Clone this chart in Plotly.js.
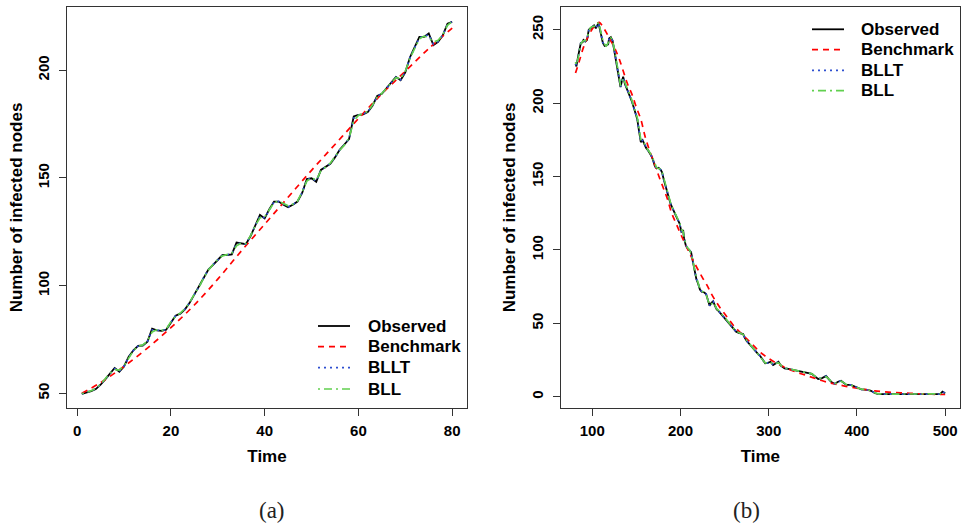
<!DOCTYPE html>
<html>
<head>
<meta charset="utf-8">
<script src="https://cdn.plot.ly/plotly-3.0.1.min.js"></script>
<style>html,body{margin:0;padding:0;background:#fff;}#chart{width:962px;height:528px;}</style>
</head>
<body>
<div id="chart"></div>
<script>
// ---------- Panel (a) ----------
const aTime = Array.from({length: 80}, (_, i) => i + 1);
const aObserved = [49.7,50.3,51,52,54,56.5,59,61.8,60,62.5,
  67,70,72,72.2,74,80,79.2,79,79.5,83,
  86,87,89,92,96,99.5,104,107.5,109.6,112,
  114.2,114.2,114.5,120,119.5,119.2,123,128,132.8,131.2,
  135.5,139,139,137.5,136.4,137.5,139,143,149.5,149.8,
  148.2,153.7,155,156.5,159.5,163,165.5,168,178.5,179.2,
  179.5,180.6,183.5,188,189,191.5,194.5,196.8,195.3,199,
  206,210.8,215.4,215.4,217,211.6,213.1,216.2,221.6,222.4];
const aBLLT = [49.7,50.4,51.1,52.1,54.1,56.6,59.1,61.5,60.3,62.6,
  66.8,69.9,71.9,72.3,74.1,79.5,79.3,79.1,79.6,83.1,
  85.9,87.1,89.1,92.1,95.9,99.4,103.8,107.4,109.7,112.1,
  114,114.3,114.7,119.5,119.6,119.3,123.1,127.9,132.3,131.4,
  135.4,138.8,139.1,137.7,136.6,137.6,139.1,143.2,149.2,149.9,
  148.5,153.5,155.1,156.6,159.6,162.9,165.4,168.2,177.8,179.1,
  179.6,180.7,183.6,187.8,189.1,191.6,194.4,196.7,195.5,199.2,
  205.8,210.6,215.1,215.5,216.5,212,213.3,216.3,221.3,222.5];
const aBLL = [49.8,50.5,51.2,52.3,54.2,56.8,59.3,61,60.8,62.8,
  66.5,69.8,71.8,72.5,74.2,78.5,79.5,79.2,79.8,83.2,
  85.8,87.2,89.3,92.2,96,99.3,103.6,107.2,109.8,112.2,
  113.8,114.5,115,118.5,119.8,119.5,123.2,127.8,131.5,131.8,
  135.2,138.5,139.2,138,137,137.8,139.2,143.5,148.5,150,
  149,153.2,155.2,156.8,159.8,162.8,165.2,168.5,176.5,179,
  179.8,180.8,183.8,187.5,189.2,191.8,194.2,196.5,196,199.5,
  205.5,210.2,214.5,215.8,215,213,213.8,216.5,220.8,222.6];
const aBenchTime = [1,5,10,15,20,25,30,35,40,45,50,55,60,65,70,75,80];
const aBenchmark = [50,55,62.5,71,80.5,91,103,116,128.5,141,153.5,165.5,177.5,189,199.5,210,219.5];

// ---------- Panel (b) ----------
const bTime = [81,82,84,86,87,89,90,92,94,96,
  98,100,102,104,106,107,108,110,112,114,
  116,118,119,121,123,125,127,129,131,132,
  134,135,137,139,141,143,145,147,149,151,
  153,155,157,159,161,163,165,167,169,171,
  173,175,177,179,181,183,185,187,189,191,
  193,195,197,199,201,203,204,206,208,210,
  212,214,216,218,220,222,224,227,229,231,
  233,235,237,239,241,243,245,248,250,252,
  255,257,260,263,266,268,271,273,275,279,
  282,285,288,290,293,296,299,302,305,308,
  311,314,318,322,326,330,334,338,342,346,
  349,352,356,360,365,368,371,375,378,382,
  385,388,393,397,401,405,412,416,420,424,
  440,460,480,494,497,500];
const bObserved = [226.8,225,232,238,241,241.5,243,242,243,250,
  251,252,253,251,254,254.5,252,247,241,239,
  239.5,240,244,245,242.5,236,229,222,214.5,211,
  216,218,213,210,207.5,205,201,197,193,189,
  181,173.5,174.8,172,169.5,168,166,164,161,157,
  155.5,156,155,153,148,143,139.5,135,131,128,
  125,123,120.5,118,112.5,113.5,108,103,101,100,
  98.5,92,85,80,77,73,71.5,71,70,66,
  62,64,65,62,59.5,58.5,57,55,54,52,
  50,48.5,46,44.3,43.5,43,42.7,40,38,35.2,
  33,31,29,28,25,22.7,23,23.8,21.6,22.5,
  23.8,21,19.3,19,18.5,18.2,17.2,17,16.5,16,
  15.5,14,12.1,12.5,14.1,12,10,8.7,10,10.9,
  9.5,8,8,7,5.7,5,4.6,4,2.5,1.8,
  1.8,1.8,1.8,1.8,3.4,2.3];
const bBLLT = [227,225.5,231.5,237.5,241,241.8,242.8,242.2,243.2,249.5,
  251.2,252,252.8,251.3,253.8,254.6,252.3,247.3,241.3,239.2,
  239.4,240.3,243.6,244.8,242.6,236.3,229.3,222.3,214.8,211.2,
  215.7,217.7,213.2,210.1,207.6,205.1,201.2,197.1,193.1,189.2,
  181.4,173.8,174.6,172.1,169.6,168.1,166.1,164.1,161.1,157.2,
  155.6,155.9,155,153.1,148.2,143.2,139.6,135.2,131.1,128.1,
  125.1,123.1,120.6,118.1,112.7,113.3,108.2,103.2,101.1,100.1,
  98.4,92.2,85.2,80.2,77.1,73.1,71.6,71,70,66.1,
  62.1,63.9,64.9,62.1,59.6,58.6,57.1,55.1,54,52.1,
  50.1,48.6,46.1,44.4,43.5,43.1,42.7,40.1,38.1,35.3,
  33.1,31.1,29.1,28.1,25.1,22.8,23,23.7,21.7,22.5,
  23.7,21.1,19.4,19,18.5,18.2,17.2,17,16.5,16,
  15.5,14.1,12.2,12.5,14,12.1,10.1,8.8,10,10.8,
  9.5,8.1,8,7,5.8,5,4.6,4,2.6,1.8,
  1.8,1.8,1.8,1.8,3.3,2.4];
const bBLL = [228,226,231,237,240.5,242,242.5,242.5,244,248.5,
  251.5,252,252.5,252,253.5,255,253,248,242.5,240,
  239,241,242.5,244.5,243,237.5,230,223,216,212,
  214.5,217,214,210.5,208,205.5,202,197.5,193.5,190,
  183,175,173.5,172.5,170,168.5,166.5,164.5,161.5,158,
  156,155.5,155.2,153.5,149,144,140,136,131.5,128.5,
  125.5,123.5,121,118.5,114,112.5,109,104,101.5,100.2,
  97.5,93,86,81,77.5,73.5,72,70.5,69.5,66.5,
  62.5,63,64.5,62.5,60,58.8,57.2,55.3,54.2,52.3,
  50.3,48.8,46.3,44.6,43.7,43.2,42.5,40.3,38.3,35.5,
  33.3,31.3,29.2,28.2,25.5,23,23,23.5,22,22.5,
  23.2,21.3,19.5,19.1,18.6,18.3,17.4,17.1,16.6,16.1,
  15.6,14.2,12.4,12.6,13.6,12.2,10.3,9,9.8,10.6,
  9.6,8.2,8,7.1,5.9,5.1,4.7,4.1,2.7,1.9,
  1.8,1.8,1.8,1.9,3,2.6];
const bBenchTime = [81,85,90,95,100,105,108,112,116,120,125,130,135,140,145,150,155,160,165,170,
  175,180,185,190,195,200,205,210,215,220,225,230,235,240,245,250,255,260,265,270,
  280,290,300,310,320,330,340,350,360,370,380,390,400,410,420,430,440,450,460,470,480,490,500];
const bBenchmark = [220.5,228,238,245,250.5,254,255,252,248,243.5,238,231,222,213,206,197,189,177,167.5,159.5,
  151,143,135,125,118,111,104.5,98,92,86.3,81,76,70,65,60.5,56.5,52.5,48.5,45.4,42.5,
  36.5,30.5,26,22.5,19.5,17,15,13,11,9.3,8,6.8,5.8,4.8,4,3.4,2.9,2.6,2.3,2,1.8,1.6,1.5];

const seriesNames = ['Observed', 'Benchmark', 'BLLT', 'BLL'];
const xTicksA = [0, 20, 40, 60, 80];
const yTicksA = [50, 100, 150, 200];
const xTicksB = [100, 200, 300, 400, 500];
const yTicksB = [0, 50, 100, 150, 200, 250];

// ---------- styling ----------
const FONT = 'Liberation Sans, Arial, Helvetica, sans-serif';
const styles = [
  {color: '#000000', width: 1.8, dash: 'solid'},
  {color: '#FF0000', width: 1.7, dash: '6px,5px'},
  {color: '#2E4FD0', width: 1.7, dash: '2px,4px'},
  {color: '#61D04F', width: 1.7, dash: '2px,4px,8px,4px'}
];

function mk(x, y, i, xa, ya, spline) {
  return {
    x: x, y: y, type: 'scatter', mode: 'lines', name: seriesNames[i],
    xaxis: xa, yaxis: ya, showlegend: false,
    line: Object.assign({}, styles[i], spline ? {shape: 'spline', smoothing: 1} : {}),
    hoverinfo: 'skip'
  };
}

const traces = [
  mk(aTime, aObserved, 0, 'x', 'y'),
  mk(aBenchTime, aBenchmark, 1, 'x', 'y', true),
  mk(aTime, aBLLT, 2, 'x', 'y'),
  mk(aTime, aBLL, 3, 'x', 'y'),
  mk(bTime, bObserved, 0, 'x2', 'y2'),
  mk(bBenchTime, bBenchmark, 1, 'x2', 'y2', true),
  mk(bTime, bBLLT, 2, 'x2', 'y2'),
  mk(bTime, bBLL, 3, 'x2', 'y2')
];

const tickFont = {family: FONT, size: 15, color: '#000', weight: 'bold'};
const titleFont = {family: FONT, size: 17, color: '#000', weight: 'bold'};
function xa(domain, range, ticks, anchor) {
  return {
    domain: domain, range: range, anchor: anchor, tickmode: 'array', tickvals: ticks,
    ticks: 'outside', ticklen: 7, tickwidth: 1, tickcolor: '#333', ticklabelstandoff: 2,
    showline: true, mirror: true, linecolor: '#333', linewidth: 1,
    showgrid: false, zeroline: false, tickfont: tickFont,
    title: {text: 'Time', font: titleFont, standoff: 12}
  };
}
function ya(range, ticks, anchor) {
  return {
    domain: [0, 1], range: range, anchor: anchor, tickmode: 'array', tickvals: ticks,
    ticks: 'outside', ticklen: 7, tickwidth: 1, tickcolor: '#333', tickangle: -90,
    ticklabelstandoff: 4,
    showline: true, mirror: true, linecolor: '#333', linewidth: 1,
    showgrid: false, zeroline: false, tickfont: tickFont,
    title: {text: 'Number of infected nodes', font: titleFont, standoff: 8}
  };
}

// ---------- legends (drawn in paper coordinates) ----------
const PX0 = 67, PW = 893, PY0 = 408, PH = 401;
const px2x = p => (p - PX0) / PW;
const px2y = p => (PY0 - p) / PH;
const legendSpecs = [
  {lineX0: 318, lineX1: 350, textX: 366, rows: [326, 346.7, 367.7, 389]},
  {lineX0: 812, lineX1: 844, textX: 859, rows: [29.3, 49.7, 70.3, 90.7]}
];
const shapes = [];
const annotations = [];
legendSpecs.forEach(spec => {
  seriesNames.forEach((name, i) => {
    shapes.push({type: 'line', xref: 'paper', yref: 'paper',
      x0: px2x(spec.lineX0), x1: px2x(spec.lineX1), y0: px2y(spec.rows[i]), y1: px2y(spec.rows[i]),
      line: {color: styles[i].color, width: styles[i].width, dash: styles[i].dash}});
    annotations.push({text: name, xref: 'paper', yref: 'paper', x: px2x(spec.textX), y: px2y(spec.rows[i]),
      xanchor: 'left', yanchor: 'middle', showarrow: false,
      font: {family: FONT, size: 17, color: '#000', weight: 'bold'}});
  });
});
annotations.push(
  {text: '(a)', xref: 'paper', yref: 'paper', x: px2x(272), y: px2y(511), showarrow: false,
    xanchor: 'center', yanchor: 'middle', font: {family: 'Liberation Serif, DejaVu Serif, serif', size: 23, color: '#222'}},
  {text: '(b)', xref: 'paper', yref: 'paper', x: px2x(746), y: px2y(511), showarrow: false,
    xanchor: 'center', yanchor: 'middle', font: {family: 'Liberation Serif, DejaVu Serif, serif', size: 23, color: '#222'}}
);

const layout = {
  width: 962, height: 528,
  margin: {l: 67, r: 2, t: 7, b: 120},
  paper_bgcolor: '#fff', plot_bgcolor: '#fff',
  showlegend: false,
  xaxis: xa([0, px2x(467)], [-2.16, 83.16], xTicksA, 'y'),
  yaxis: ya([43.2, 229.3], yTicksA, 'x'),
  xaxis2: xa([px2x(560.7), 1], [64.2, 516.8], xTicksB, 'y2'),
  yaxis2: ya([-7.7, 265.5], yTicksB, 'x2'),
  shapes: shapes,
  annotations: annotations
};

Plotly.newPlot('chart', traces, layout, {staticPlot: true, displayModeBar: false});
</script>
</body>
</html>
